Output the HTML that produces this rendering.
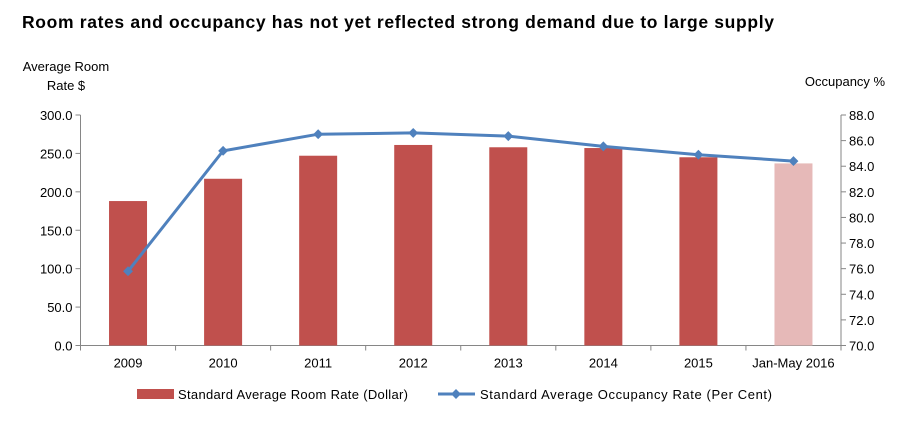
<!DOCTYPE html>
<html><head><meta charset="utf-8"><style>
body{margin:0;background:#fff;font-family:"Liberation Sans",sans-serif;}
svg text{font-family:"Liberation Sans",sans-serif;fill:#000;}
</style></head><body>
<svg id="c" width="902" height="423" viewBox="0 0 902 423">
<text x="22" y="28" font-size="17.5" font-weight="bold" textLength="752" lengthAdjust="spacing">Room rates and occupancy has not yet reflected strong demand due to large supply</text>
<text x="66" y="71" font-size="13" text-anchor="middle">Average Room</text>
<text x="66" y="90" font-size="13" text-anchor="middle">Rate $</text>
<text x="845" y="86" font-size="13" text-anchor="middle">Occupancy %</text>
<g id="g"></g>
<g>
<rect x="137" y="389" width="37" height="10" fill="#c0504d"></rect>
<text x="178" y="399" font-size="13" textLength="230" lengthAdjust="spacing">Standard Average Room Rate (Dollar)</text>
<line x1="438" y1="394" x2="475" y2="394" stroke="#4f81bd" stroke-width="3"></line>
<rect x="452.5" y="390.5" width="7" height="7" fill="#4f81bd" transform="rotate(45 456 394)"></rect>
<text x="480" y="399" font-size="13" textLength="292" lengthAdjust="spacing">Standard Average Occupancy Rate (Per Cent)</text>
</g>
</svg>
<script>
const categories=["2009","2010","2011","2012","2013","2014","2015","Jan-May 2016"];
const roomRates=[188,217,247,261,258,257,245,237];
const occupancy=[75.8,85.2,86.5,86.6,86.35,85.55,84.9,84.4];
const leftTicks=[0,50,100,150,200,250,300];
const rightTicks=[70,72,74,76,78,80,82,84,86,88];
const NS="http://www.w3.org/2000/svg";
const g=document.getElementById('g');
const L=80.5,R=841,T=115,B=345.5;
const bw=(R-L)/categories.length;
const yL=v=>B-(v/300)*(B-T);
const yR=v=>B-((v-70)/18)*(B-T);
const xC=i=>L+bw*(i+0.5);
function mk(t,a){const e=document.createElementNS(NS,t);for(const k in a)e.setAttribute(k,a[k]);g.appendChild(e);return e;}
let e=mk('line',{x1:L,y1:T,x2:L,y2:B,stroke:'#868686'});


e=mk('line',{x1:R,y1:T,x2:R,y2:B,stroke:'#868686'});


e=mk('line',{x1:L,y1:B,x2:R,y2:B,stroke:'#868686'});


leftTicks.forEach(v=>{const y=yL(v);
mk('line',{x1:L-5,y1:y,x2:L,y2:y,stroke:'#868686'});
const t=mk('text',{x:L-8,y:y+5,'font-size':13,'text-anchor':'end'});t.textContent=v.toFixed(1);

});
rightTicks.forEach(v=>{const y=yR(v);
mk('line',{x1:R,y1:y,x2:R+5,y2:y,stroke:'#868686'});
const t=mk('text',{x:R+8,y:y+5,'font-size':13});t.textContent=v.toFixed(1);

});
for(let i=0;i<=categories.length;i++){const x=L+bw*i;mk('line',{x1:x,y1:B,x2:x,y2:B+5,stroke:'#868686'});}
categories.forEach((c,i)=>{
const t=mk('text',{x:xC(i),y:B+22,'font-size':13,'text-anchor':'middle'});t.textContent=c;


const r=mk('rect',{x:xC(i)-19,y:yL(roomRates[i]),width:38,height:B-yL(roomRates[i]),fill:i===categories.length-1?'#e6b9b8':'#c0504d'});


});
const pl=mk('polyline',{points:occupancy.map((v,i)=>xC(i)+','+yR(v)).join(' '),fill:'none',stroke:'#4f81bd','stroke-width':3});


occupancy.forEach((v,i)=>{const x=xC(i),y=yR(v);
const m=mk('rect',{x:x-3.5,y:y-3.5,width:7,height:7,fill:'#4f81bd',transform:`rotate(45 ${x} ${y})`});

});
</script>
</body></html>
